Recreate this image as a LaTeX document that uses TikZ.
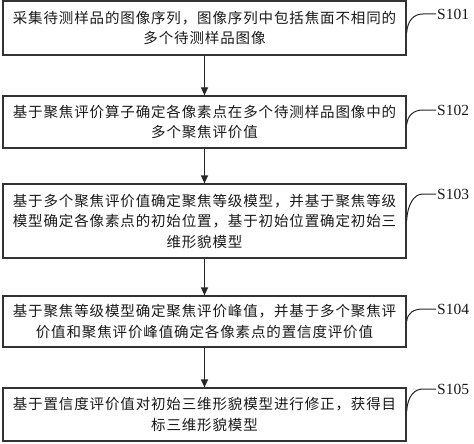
\documentclass[tikz,border=0pt]{standalone}
\usepackage{fontspec}
\setmainfont{Liberation Serif}
\newfontfamily\cjk[LetterSpace=6]{Noto Sans CJK SC}
\usetikzlibrary{arrows.meta}
\begin{document}
\begin{tikzpicture}[x=1pt,y=-1pt,
  stepbox/.style={draw=black!80, line width=1.2pt, rectangle, minimum width=403pt,
    inner sep=0pt, align=center, font=\cjk\fontsize{14.5}{20.5}\selectfont, text=black!90},
  flow/.style={draw=black!85, line width=1.2pt, -{Triangle[length=8pt,width=7pt]}},
  lead/.style={draw=black!85, line width=1pt},
  lbl/.style={anchor=west, inner sep=1pt, font=\fontsize{15.5}{18}\selectfont, text=black!90}]
\useasboundingbox (0,0) rectangle (474,444);
\node[stepbox, minimum height=54pt] (b1) at (204.5,28)
  {采集待测样品的图像序列，图像序列中包括焦面不相同的\\多个待测样品图像};
\node[stepbox, minimum height=52pt] (b2) at (204.5,122)
  {基于聚焦评价算子确定各像素点在多个待测样品图像中的\\多个聚焦评价值};
\node[stepbox, minimum height=74pt] (b3) at (204.5,221)
  {基于多个聚焦评价值确定聚焦等级模型，并基于聚焦等级\\模型确定各像素点的初始位置，基于初始位置确定初始三\\维形貌模型};
\node[stepbox, minimum height=51pt] (b4) at (204.5,321.5)
  {基于聚焦等级模型确定聚焦评价峰值，并基于多个聚焦评\\价值和聚焦评价峰值确定各像素点的置信度评价值};
\node[stepbox, minimum height=53pt] (b5) at (204.5,414.5)
  {基于置信度评价值对初始三维形貌模型进行修正，获得目\\标三维形貌模型};
\draw[flow] (b1) -- (b2);
\draw[flow] (b2) -- (b3);
\draw[flow] (b3) -- (b4);
\draw[flow] (b4) -- (b5);
\node[lbl] (l1) at (436,14) {S101};
\node[lbl] (l2) at (436,110) {S102};
\node[lbl] (l3) at (436,194) {S103};
\node[lbl] (l4) at (436,309) {S104};
\node[lbl] (l5) at (436,389) {S105};
\coordinate (c1) at (423,14);
\coordinate (c2) at (423,110);
\coordinate (c3) at (423,194);
\coordinate (c4) at (423,309);
\coordinate (c5) at (423,389);
\draw[lead] ([yshift=-5pt]b1.east) .. controls +(1,-13) and +(-9,0) .. (c1) -- (l1.west);
\draw[lead] ([yshift=-3pt]b2.east) .. controls +(1,-10) and +(-9,0) .. (c2) -- (l2.west);
\draw[lead] (b3.east) .. controls +(1,-17) and +(-9,0) .. (c3) -- (l3.west);
\draw[lead] (b4.east) .. controls +(1,-9) and +(-9,0) .. (c4) -- (l4.west);
\draw[lead] ([yshift=3pt]b5.east) .. controls +(1,-15) and +(-9,0) .. (c5) -- (l5.west);
\end{tikzpicture}
\end{document}
